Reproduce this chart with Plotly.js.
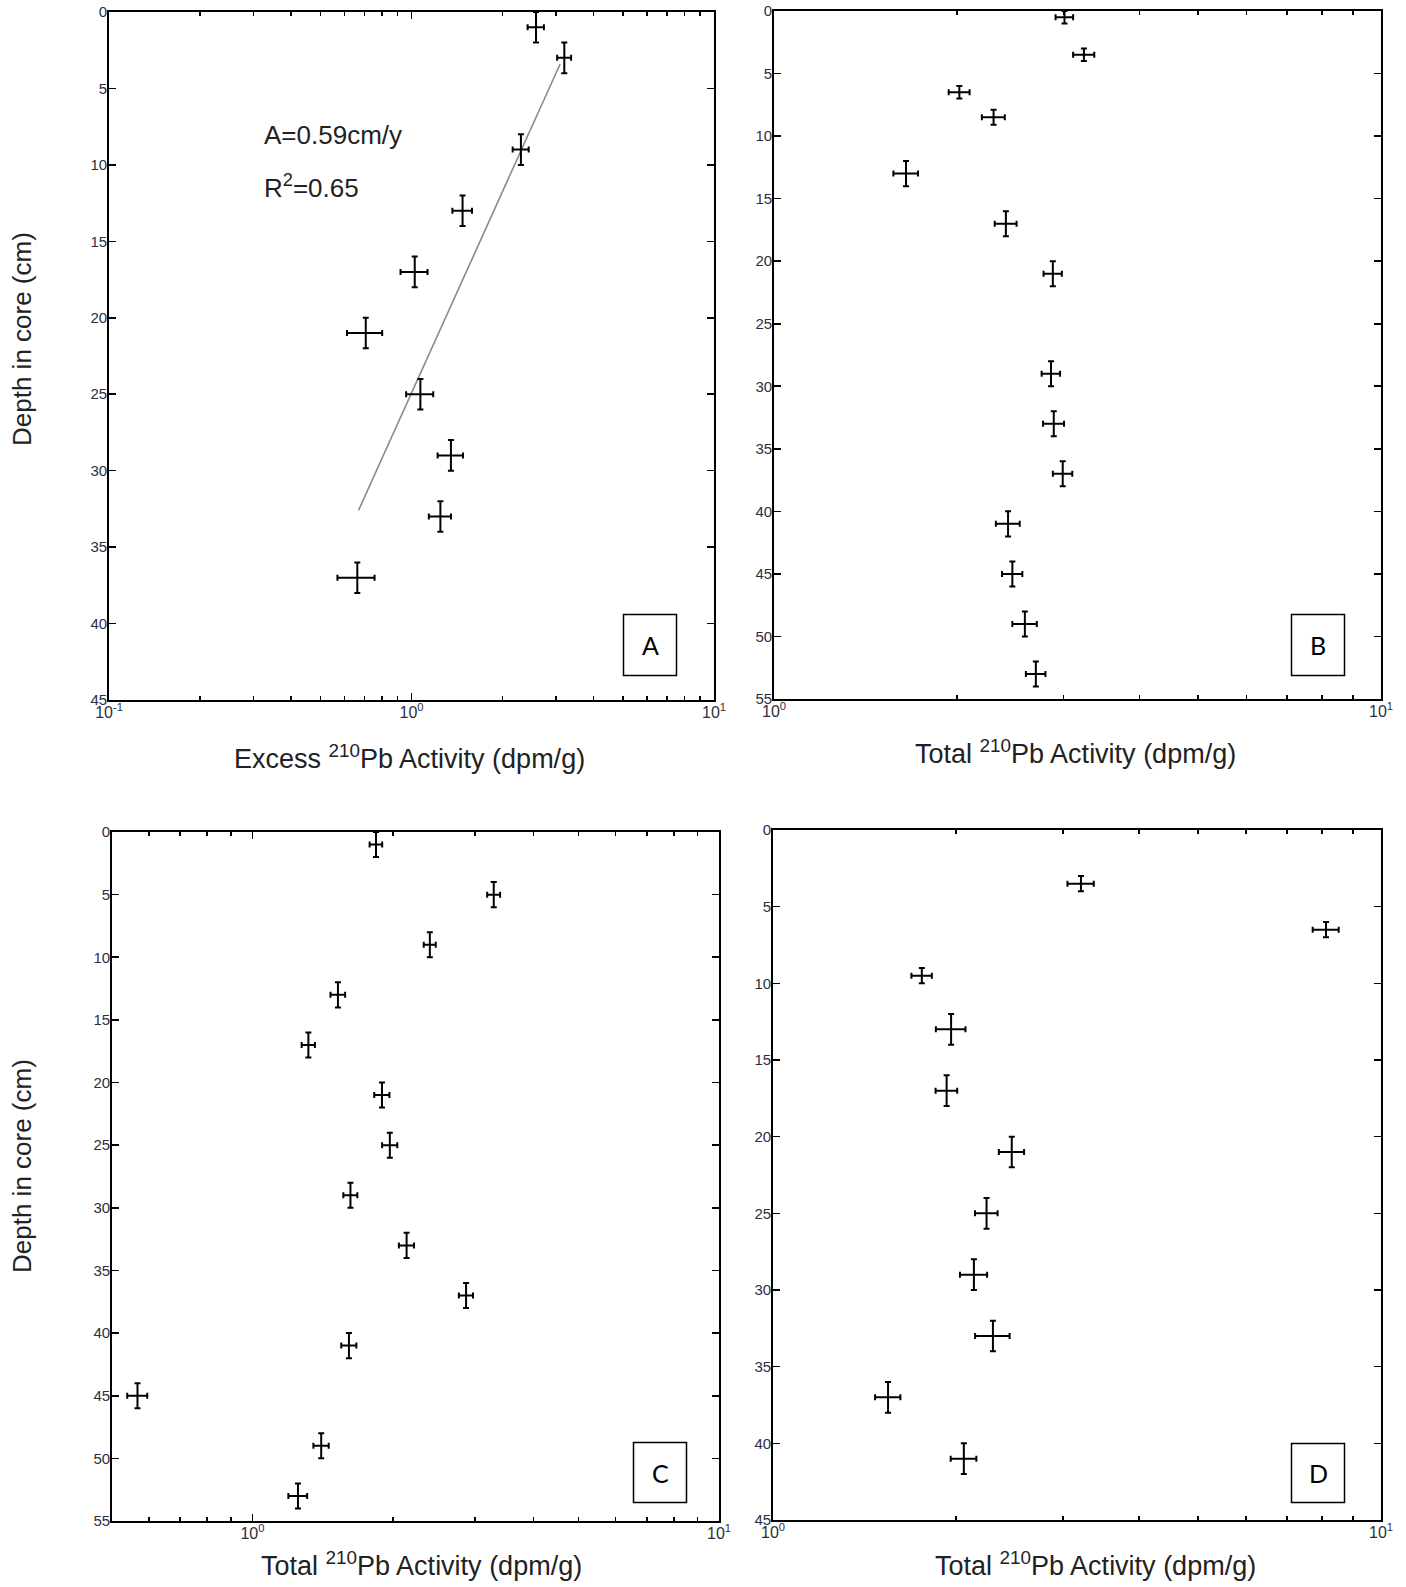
<!DOCTYPE html>
<html><head><meta charset="utf-8">
<script src="https://cdn.plot.ly/plotly-3.0.1.min.js"></script>
<style>html,body{margin:0;padding:0;background:#fff}#chart{width:1406px;height:1587px}</style>
</head><body><div id="chart"></div>
<script>
// ---------- Panel A : Excess 210Pb ----------
const depthA     = [1, 3, 9, 13, 17, 21, 25, 29, 33, 37];
const excessA    = [2.58, 3.20, 2.30, 1.475, 1.025, 0.706, 1.07, 1.35, 1.246, 0.662];
const excessAErr = [0.16, 0.17, 0.14, 0.11, 0.105, 0.094, 0.11, 0.13, 0.105, 0.093];
const depthAErr  = [1, 1, 1, 1, 1, 1, 1, 1, 1, 1];
const fitActA    = [3.10, 0.668];
const fitDepthA  = [3.4, 32.6];
// ---------- Panel B : Total 210Pb ----------
const depthB     = [0.5, 3.5, 6.5, 8.5, 13, 17, 21, 29, 33, 37, 41, 45, 49, 53];
const totalB     = [3.01, 3.24, 2.02, 2.30, 1.65, 2.41, 2.88, 2.86, 2.89, 2.99, 2.43, 2.47, 2.59, 2.70];
const totalBErr  = [0.10, 0.13, 0.08, 0.10, 0.077, 0.10, 0.10, 0.10, 0.115, 0.11, 0.11, 0.095, 0.12, 0.10];
const depthBErr  = [0.5, 0.5, 0.5, 0.6, 1, 1, 1, 1, 1, 1, 1, 1, 1, 1];
// ---------- Panel C : Total 210Pb ----------
const depthC     = [1, 5, 9, 13, 17, 21, 25, 29, 33, 37, 41, 45, 49, 53];
const totalC     = [1.84, 3.29, 2.40, 1.525, 1.318, 1.895, 1.97, 1.622, 2.14, 2.87, 1.61, 0.567, 1.404, 1.252];
const totalCErr  = [0.057, 0.105, 0.071, 0.055, 0.043, 0.071, 0.074, 0.056, 0.08, 0.10, 0.06, 0.028, 0.053, 0.058];
const depthCErr  = [1, 1, 1, 1, 1, 1, 1, 1, 1, 1, 1, 1, 1, 1];
// ---------- Panel D : Total 210Pb ----------
const depthD     = [3.5, 6.5, 9.5, 13, 17, 21, 25, 29, 33, 37, 41];
const totalD     = [3.21, 8.12, 1.757, 1.963, 1.93, 2.47, 2.245, 2.14, 2.30, 1.546, 2.06];
const totalDErr  = [0.16, 0.40, 0.068, 0.11, 0.079, 0.118, 0.096, 0.11, 0.15, 0.074, 0.10];
const depthDErr  = [0.5, 0.5, 0.5, 1, 1, 1, 1, 1, 1, 1, 1];

// ---------- tick labels ----------
const yTicks45 = [0, 5, 10, 15, 20, 25, 30, 35, 40, 45];
const yTicks55 = [0, 5, 10, 15, 20, 25, 30, 35, 40, 45, 50, 55];
const xMajorA = [0.1, 1, 10];
const xMajorAText = ['10<sup>-1</sup>', '10<sup>0</sup>', '10<sup>1</sup>'];
const xMajorB = [1, 10];
const xMajorBText = ['10<sup>0</sup>', '10<sup>1</sup>'];
const xMinorA = [0.2, 0.3, 0.4, 0.5, 0.6, 0.7, 0.8, 0.9, 2, 3, 4, 5, 6, 7, 8, 9];
const xMinorB = [2, 3, 4, 5, 6, 7, 8, 9];
const xMinorC = [0.6, 0.7, 0.8, 0.9, 2, 3, 4, 5, 6, 7, 8, 9];

const W = 1406, H = 1587;
const dx = (a, b) => [a / W, b / W];
const dy = (top, bottom) => [1 - bottom / H, 1 - top / H];

const FAM = 'Liberation Sans, Arial, sans-serif';
const yTickFont = {family: FAM, size: 15, color: '#2e2e3e'};
const xTickFont = {family: FAM, size: 16, color: '#2e2e3e'};
const titleFont = {family: FAM, size: 27, color: '#222'};

function xAxis(domain, range, majors, majorText, minors, anchor) {
  return {
    type: 'log', domain: domain, range: range, anchor: anchor,
    tickmode: 'array', tickvals: majors, ticktext: majorText,
    ticks: 'inside', ticklen: 7, tickwidth: 1.6, tickcolor: '#000',
    minor: {tickmode: 'array', tickvals: minors, ticks: 'inside', ticklen: 4, tickwidth: 1.6, tickcolor: '#000', showgrid: false},
    showline: true, linecolor: '#000', linewidth: 1.8, mirror: 'allticks',
    showgrid: false, zeroline: false, tickfont: xTickFont, ticklabelstandoff: -3, fixedrange: true
  };
}
function yAxis(domain, max, ticks, anchor) {
  return {
    domain: domain, range: [max, 0], anchor: anchor,
    tickmode: 'array', tickvals: ticks,
    ticks: 'inside', ticklen: 7, tickwidth: 1.6, tickcolor: '#000',
    showline: true, linecolor: '#000', linewidth: 1.8, mirror: 'allticks',
    showgrid: false, zeroline: false, tickfont: yTickFont, ticklabelstandoff: -3, fixedrange: true
  };
}
function pts(x, y, ex, ey, xa, ya) {
  return {
    type: 'scatter', mode: 'markers', x: x, y: y, xaxis: xa, yaxis: ya,
    marker: {size: 1, color: 'rgba(0,0,0,0)'},
    error_x: {type: 'data', array: ex, visible: true, color: '#000', thickness: 2, width: 3},
    error_y: {type: 'data', array: ey, visible: true, color: '#000', thickness: 2, width: 3},
    showlegend: false, hoverinfo: 'skip', cliponaxis: true
  };
}

const data = [
  {type: 'scatter', mode: 'lines', x: fitActA, y: fitDepthA, xaxis: 'x', yaxis: 'y',
   line: {color: '#8a8a8a', width: 1.6}, showlegend: false, hoverinfo: 'skip'},
  pts(excessA, depthA, excessAErr, depthAErr, 'x', 'y'),
  pts(totalB, depthB, totalBErr, depthBErr, 'x2', 'y2'),
  pts(totalC, depthC, totalCErr, depthCErr, 'x3', 'y3'),
  pts(totalD, depthD, totalDErr, depthDErr, 'x4', 'y4')
];

const boxes = [
  {x0: 623.5, x1: 676.5, y0: 614.5, y1: 675.5, t: 'A'},
  {x0: 1291.5, x1: 1344.5, y0: 614.5, y1: 675.5, t: 'B'},
  {x0: 633.5, x1: 686.5, y0: 1442.5, y1: 1502.5, t: 'C'},
  {x0: 1291.5, x1: 1344.5, y0: 1443.5, y1: 1502.5, t: 'D'}
];
const shapes = boxes.map(b => ({type: 'rect', xref: 'paper', yref: 'paper',
  x0: b.x0 / W, x1: b.x1 / W, y0: 1 - b.y1 / H, y1: 1 - b.y0 / H,
  line: {color: '#000', width: 1.5}, fillcolor: 'rgba(0,0,0,0)'}));

function ann(text, xp, yp, opts) {
  return Object.assign({text: text, xref: 'paper', yref: 'paper', x: xp / W, y: 1 - yp / H,
    showarrow: false, xanchor: 'center', yanchor: 'middle', font: titleFont}, opts || {});
}
const annotations = [
  ann('Excess <sup>210</sup>Pb Activity (dpm/g)', 409, 757),
  ann('Total <sup>210</sup>Pb Activity (dpm/g)', 1075, 752),
  ann('Total <sup>210</sup>Pb Activity (dpm/g)', 421, 1564),
  ann('Total <sup>210</sup>Pb Activity (dpm/g)', 1095, 1564),
  ann('Depth in core (cm)', 22, 339, {textangle: -90, font: {family: FAM, size: 26, color: '#222'}}),
  ann('Depth in core (cm)', 22, 1166, {textangle: -90, font: {family: FAM, size: 26, color: '#222'}}),
  ann('A=0.59cm/y', 262, 135, {xanchor: 'left', font: {family: FAM, size: 26, color: '#222'}}),
  ann('R<sup>2</sup>=0.65', 262, 186, {xanchor: 'left', font: {family: FAM, size: 26, color: '#222'}})
].concat(boxes.map(b => ann(b.t, (b.x0 + b.x1) / 2, (b.y0 + b.y1) / 2,
  {font: {family: 'Lato, Open Sans, sans-serif', size: 25, color: '#000'}})));

const layout = {
  width: W, height: H, margin: {l: 0, r: 0, t: 0, b: 0},
  paper_bgcolor: '#fff', plot_bgcolor: '#fff', showlegend: false,
  xaxis:  xAxis(dx(109, 714), [-1, 1], xMajorA, xMajorAText, xMinorA, 'y'),
  yaxis:  yAxis(dy(12, 700), 45, yTicks45, 'x'),
  xaxis2: xAxis(dx(774, 1381), [0, 1], xMajorB, xMajorBText, xMinorB, 'y2'),
  yaxis2: yAxis(dy(11, 699), 55, yTicks55, 'x2'),
  xaxis3: xAxis(dx(112, 719), [Math.log10(0.5), 1], xMajorB, xMajorBText, xMinorC, 'y3'),
  yaxis3: yAxis(dy(832, 1521), 55, yTicks55, 'x3'),
  xaxis4: xAxis(dx(773, 1381), [0, 1], xMajorB, xMajorBText, xMinorB, 'y4'),
  yaxis4: yAxis(dy(830, 1520), 45, yTicks45, 'x4'),
  shapes: shapes, annotations: annotations
};

Plotly.newPlot('chart', data, layout, {staticPlot: true, displayModeBar: false});
</script>
</body></html>
